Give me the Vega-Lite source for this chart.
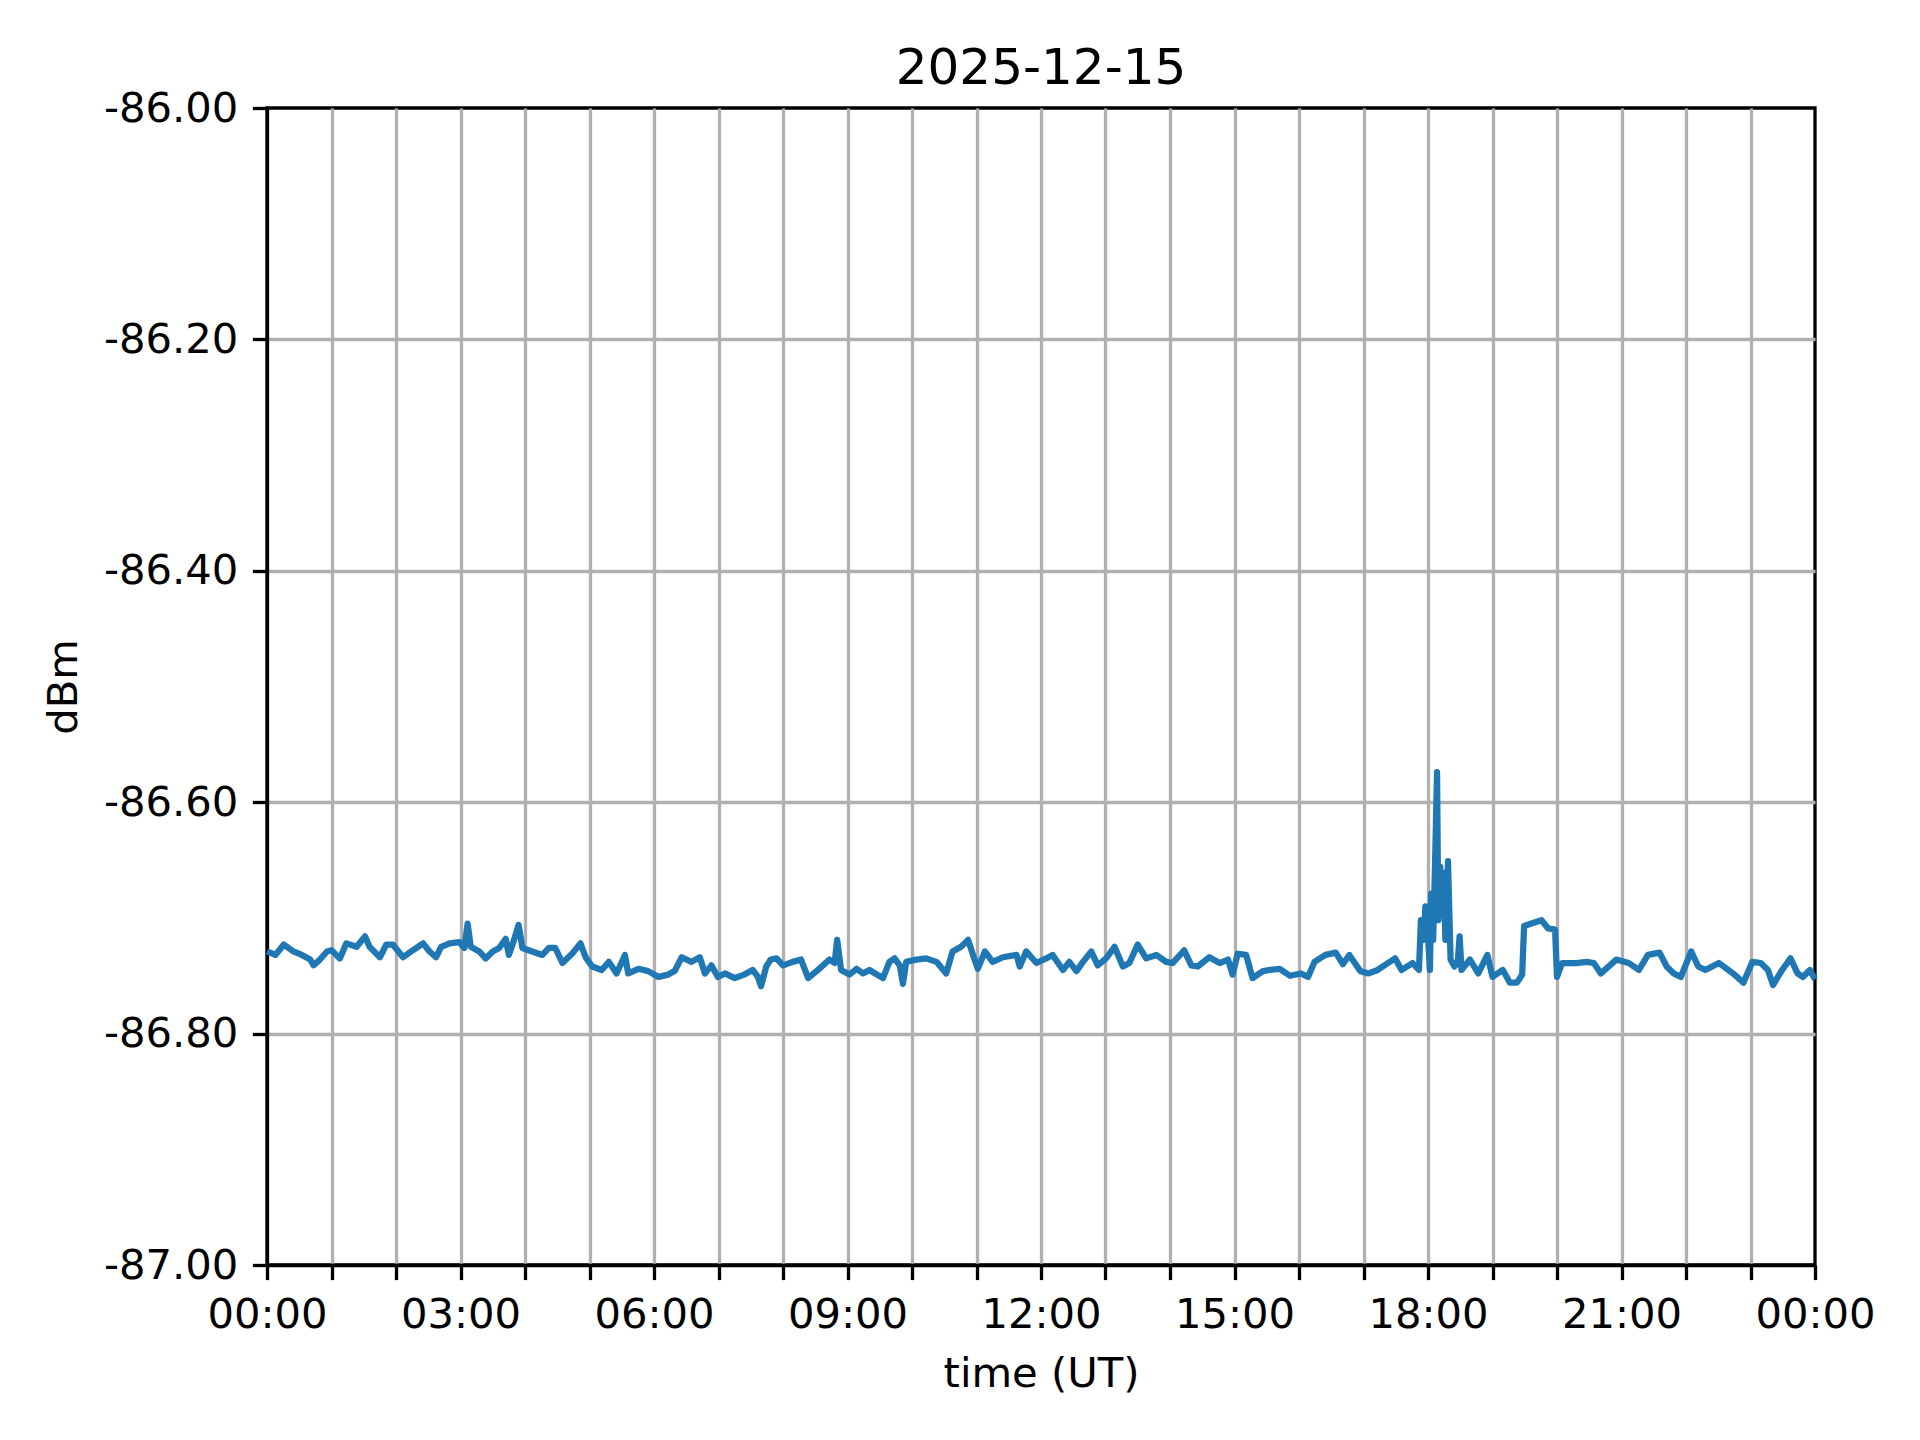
{
  "$schema": "https://vega.github.io/schema/vega-lite/v6.json",
  "autosize": {"type": "none"},
  "padding": {"left": 267, "top": 108, "right": 105, "bottom": 175},
  "width": 1548,
  "height": 1157,
  "background": "white",
  "title": {
    "text": "2025-12-15",
    "font": "DejaVu Sans",
    "fontSize": 50,
    "fontWeight": "normal",
    "color": "black",
    "anchor": "middle",
    "offset": -6
  },
  "data": {
    "values": [
      {"hour": 0.0, "dBm": -86.729},
      {"hour": 0.13, "dBm": -86.732},
      {"hour": 0.26, "dBm": -86.723},
      {"hour": 0.41, "dBm": -86.729},
      {"hour": 0.54, "dBm": -86.732},
      {"hour": 0.67, "dBm": -86.736},
      {"hour": 0.72, "dBm": -86.741},
      {"hour": 0.82, "dBm": -86.736},
      {"hour": 0.93, "dBm": -86.729},
      {"hour": 1.0, "dBm": -86.728},
      {"hour": 1.13, "dBm": -86.735},
      {"hour": 1.23, "dBm": -86.722},
      {"hour": 1.39, "dBm": -86.725},
      {"hour": 1.52, "dBm": -86.716},
      {"hour": 1.59, "dBm": -86.725},
      {"hour": 1.75, "dBm": -86.734},
      {"hour": 1.85, "dBm": -86.723},
      {"hour": 1.95, "dBm": -86.723},
      {"hour": 2.11, "dBm": -86.734},
      {"hour": 2.26, "dBm": -86.728},
      {"hour": 2.42, "dBm": -86.722},
      {"hour": 2.52, "dBm": -86.729},
      {"hour": 2.62, "dBm": -86.734},
      {"hour": 2.7, "dBm": -86.725},
      {"hour": 2.83, "dBm": -86.722},
      {"hour": 2.98, "dBm": -86.721},
      {"hour": 3.06, "dBm": -86.726},
      {"hour": 3.11, "dBm": -86.705},
      {"hour": 3.16, "dBm": -86.725},
      {"hour": 3.29, "dBm": -86.729},
      {"hour": 3.39, "dBm": -86.735},
      {"hour": 3.5, "dBm": -86.729},
      {"hour": 3.6, "dBm": -86.726},
      {"hour": 3.7, "dBm": -86.718},
      {"hour": 3.75, "dBm": -86.732},
      {"hour": 3.83, "dBm": -86.719},
      {"hour": 3.9, "dBm": -86.706},
      {"hour": 3.96, "dBm": -86.726},
      {"hour": 4.11, "dBm": -86.729},
      {"hour": 4.27, "dBm": -86.732},
      {"hour": 4.37, "dBm": -86.726},
      {"hour": 4.47, "dBm": -86.726},
      {"hour": 4.58, "dBm": -86.739},
      {"hour": 4.73, "dBm": -86.731},
      {"hour": 4.86, "dBm": -86.722},
      {"hour": 4.94, "dBm": -86.734},
      {"hour": 5.04, "dBm": -86.742},
      {"hour": 5.19, "dBm": -86.745},
      {"hour": 5.3, "dBm": -86.738},
      {"hour": 5.42, "dBm": -86.748},
      {"hour": 5.55, "dBm": -86.732},
      {"hour": 5.6, "dBm": -86.748},
      {"hour": 5.76, "dBm": -86.744},
      {"hour": 5.91, "dBm": -86.746},
      {"hour": 6.07, "dBm": -86.751},
      {"hour": 6.22, "dBm": -86.749},
      {"hour": 6.32, "dBm": -86.746},
      {"hour": 6.43, "dBm": -86.734},
      {"hour": 6.58, "dBm": -86.738},
      {"hour": 6.71, "dBm": -86.734},
      {"hour": 6.79, "dBm": -86.748},
      {"hour": 6.89, "dBm": -86.741},
      {"hour": 6.99, "dBm": -86.751},
      {"hour": 7.1, "dBm": -86.748},
      {"hour": 7.25, "dBm": -86.752},
      {"hour": 7.4, "dBm": -86.749},
      {"hour": 7.53, "dBm": -86.745},
      {"hour": 7.61, "dBm": -86.751},
      {"hour": 7.66, "dBm": -86.759},
      {"hour": 7.74, "dBm": -86.742},
      {"hour": 7.81, "dBm": -86.736},
      {"hour": 7.9, "dBm": -86.735},
      {"hour": 8.0, "dBm": -86.741},
      {"hour": 8.15, "dBm": -86.738},
      {"hour": 8.28, "dBm": -86.736},
      {"hour": 8.39, "dBm": -86.752},
      {"hour": 8.52, "dBm": -86.746},
      {"hour": 8.62, "dBm": -86.741},
      {"hour": 8.72, "dBm": -86.736},
      {"hour": 8.8, "dBm": -86.739},
      {"hour": 8.84, "dBm": -86.719},
      {"hour": 8.9, "dBm": -86.745},
      {"hour": 9.03, "dBm": -86.749},
      {"hour": 9.14, "dBm": -86.744},
      {"hour": 9.24, "dBm": -86.748},
      {"hour": 9.34, "dBm": -86.745},
      {"hour": 9.55, "dBm": -86.752},
      {"hour": 9.65, "dBm": -86.738},
      {"hour": 9.73, "dBm": -86.735},
      {"hour": 9.81, "dBm": -86.741},
      {"hour": 9.86, "dBm": -86.757},
      {"hour": 9.91, "dBm": -86.738},
      {"hour": 10.07, "dBm": -86.736},
      {"hour": 10.22, "dBm": -86.735},
      {"hour": 10.38, "dBm": -86.738},
      {"hour": 10.53, "dBm": -86.748},
      {"hour": 10.63, "dBm": -86.729},
      {"hour": 10.76, "dBm": -86.725},
      {"hour": 10.87, "dBm": -86.719},
      {"hour": 10.94, "dBm": -86.731},
      {"hour": 11.02, "dBm": -86.744},
      {"hour": 11.13, "dBm": -86.729},
      {"hour": 11.25, "dBm": -86.738},
      {"hour": 11.41, "dBm": -86.734},
      {"hour": 11.62, "dBm": -86.732},
      {"hour": 11.67, "dBm": -86.742},
      {"hour": 11.77, "dBm": -86.729},
      {"hour": 11.93, "dBm": -86.739},
      {"hour": 12.08, "dBm": -86.735},
      {"hour": 12.18, "dBm": -86.732},
      {"hour": 12.34, "dBm": -86.745},
      {"hour": 12.44, "dBm": -86.738},
      {"hour": 12.55, "dBm": -86.746},
      {"hour": 12.65, "dBm": -86.738},
      {"hour": 12.78, "dBm": -86.729},
      {"hour": 12.88, "dBm": -86.741},
      {"hour": 13.01, "dBm": -86.735},
      {"hour": 13.14, "dBm": -86.725},
      {"hour": 13.27, "dBm": -86.742},
      {"hour": 13.37, "dBm": -86.739},
      {"hour": 13.5, "dBm": -86.723},
      {"hour": 13.63, "dBm": -86.735},
      {"hour": 13.79, "dBm": -86.732},
      {"hour": 13.94, "dBm": -86.738},
      {"hour": 14.04, "dBm": -86.739},
      {"hour": 14.22, "dBm": -86.728},
      {"hour": 14.33, "dBm": -86.741},
      {"hour": 14.43, "dBm": -86.742},
      {"hour": 14.61, "dBm": -86.734},
      {"hour": 14.77, "dBm": -86.739},
      {"hour": 14.9, "dBm": -86.736},
      {"hour": 14.97, "dBm": -86.749},
      {"hour": 15.05, "dBm": -86.731},
      {"hour": 15.18, "dBm": -86.732},
      {"hour": 15.28, "dBm": -86.752},
      {"hour": 15.44, "dBm": -86.746},
      {"hour": 15.54, "dBm": -86.745},
      {"hour": 15.7, "dBm": -86.744},
      {"hour": 15.86, "dBm": -86.75},
      {"hour": 16.03, "dBm": -86.748},
      {"hour": 16.14, "dBm": -86.751},
      {"hour": 16.24, "dBm": -86.738},
      {"hour": 16.41, "dBm": -86.732},
      {"hour": 16.57, "dBm": -86.73},
      {"hour": 16.68, "dBm": -86.74},
      {"hour": 16.78, "dBm": -86.732},
      {"hour": 16.95, "dBm": -86.746},
      {"hour": 17.08, "dBm": -86.748},
      {"hour": 17.22, "dBm": -86.745},
      {"hour": 17.38, "dBm": -86.739},
      {"hour": 17.49, "dBm": -86.735},
      {"hour": 17.59, "dBm": -86.745},
      {"hour": 17.76, "dBm": -86.739},
      {"hour": 17.86, "dBm": -86.745},
      {"hour": 17.89, "dBm": -86.702},
      {"hour": 17.93, "dBm": -86.719},
      {"hour": 17.96, "dBm": -86.69},
      {"hour": 18.0, "dBm": -86.716},
      {"hour": 18.03, "dBm": -86.745},
      {"hour": 18.05, "dBm": -86.679},
      {"hour": 18.08, "dBm": -86.719},
      {"hour": 18.11, "dBm": -86.652},
      {"hour": 18.14, "dBm": -86.574},
      {"hour": 18.16, "dBm": -86.702},
      {"hour": 18.19, "dBm": -86.656},
      {"hour": 18.22, "dBm": -86.693},
      {"hour": 18.24, "dBm": -86.661},
      {"hour": 18.27, "dBm": -86.719},
      {"hour": 18.31, "dBm": -86.651},
      {"hour": 18.35, "dBm": -86.736},
      {"hour": 18.41, "dBm": -86.742},
      {"hour": 18.46, "dBm": -86.739},
      {"hour": 18.49, "dBm": -86.716},
      {"hour": 18.52, "dBm": -86.745},
      {"hour": 18.65, "dBm": -86.736},
      {"hour": 18.78, "dBm": -86.748},
      {"hour": 18.92, "dBm": -86.732},
      {"hour": 19.0, "dBm": -86.751},
      {"hour": 19.16, "dBm": -86.745},
      {"hour": 19.27, "dBm": -86.756},
      {"hour": 19.38, "dBm": -86.756},
      {"hour": 19.46, "dBm": -86.749},
      {"hour": 19.49, "dBm": -86.707},
      {"hour": 19.59, "dBm": -86.705},
      {"hour": 19.76, "dBm": -86.702},
      {"hour": 19.86, "dBm": -86.709},
      {"hour": 19.97, "dBm": -86.71},
      {"hour": 20.0, "dBm": -86.751},
      {"hour": 20.08, "dBm": -86.739},
      {"hour": 20.3, "dBm": -86.739},
      {"hour": 20.46, "dBm": -86.738},
      {"hour": 20.57, "dBm": -86.739},
      {"hour": 20.68, "dBm": -86.748},
      {"hour": 20.92, "dBm": -86.736},
      {"hour": 21.11, "dBm": -86.739},
      {"hour": 21.27, "dBm": -86.745},
      {"hour": 21.41, "dBm": -86.732},
      {"hour": 21.59, "dBm": -86.73},
      {"hour": 21.7, "dBm": -86.742},
      {"hour": 21.81, "dBm": -86.748},
      {"hour": 21.92, "dBm": -86.751},
      {"hour": 22.08, "dBm": -86.729},
      {"hour": 22.19, "dBm": -86.742},
      {"hour": 22.3, "dBm": -86.745},
      {"hour": 22.51, "dBm": -86.739},
      {"hour": 22.73, "dBm": -86.748},
      {"hour": 22.89, "dBm": -86.756},
      {"hour": 23.03, "dBm": -86.738},
      {"hour": 23.16, "dBm": -86.739},
      {"hour": 23.27, "dBm": -86.745},
      {"hour": 23.35, "dBm": -86.758},
      {"hour": 23.49, "dBm": -86.745},
      {"hour": 23.62, "dBm": -86.735},
      {"hour": 23.73, "dBm": -86.748},
      {"hour": 23.81, "dBm": -86.751},
      {"hour": 23.92, "dBm": -86.745},
      {"hour": 24.0, "dBm": -86.753}
    ]
  },
  "mark": {"type": "line", "color": "#1f77b4", "strokeWidth": 6.25, "strokeJoin": "round"},
  "encoding": {
    "x": {
      "field": "hour",
      "type": "quantitative",
      "scale": {"domain": [0, 24], "nice": false, "zero": false},
      "axis": {
        "title": "time (UT)",
        "values": [0, 1, 2, 3, 4, 5, 6, 7, 8, 9, 10, 11, 12, 13, 14, 15, 16, 17, 18, 19, 20, 21, 22, 23, 24],
        "labelExpr": "datum.value % 3 === 0 ? ((datum.value % 24) < 10 ? '0' : '') + (datum.value % 24) + ':00' : ''",
        "labelFlush": false,
        "labelOverlap": false,
        "titlePadding": 18,
        "gridOpacity": {"condition": {"test": "datum.value === 0 || datum.value === 24", "value": 0}, "value": 1},
        "encode": {
          "ticks": {
            "update": {
              "y2": {"signal": "datum.value % 3 === 0 ? 14.6 : 8.3"},
              "strokeWidth": {"signal": "datum.value % 3 === 0 ? 3.3 : 2.5"}
            }
          }
        }
      }
    },
    "y": {
      "field": "dBm",
      "type": "quantitative",
      "scale": {"domain": [-87, -86], "nice": false, "zero": false},
      "axis": {
        "title": "dBm",
        "values": [-87, -86.8, -86.6, -86.4, -86.2, -86],
        "labelExpr": "'-' + format(-datum.value, '.2f')",
        "gridOpacity": {"condition": {"test": "datum.value === -87 || datum.value === -86", "value": 0}, "value": 1},
        "titlePadding": 18
      }
    }
  },
  "config": {
    "view": {"stroke": "black", "strokeWidth": 3.3},
    "axis": {
      "labelFont": "DejaVu Sans",
      "titleFont": "DejaVu Sans",
      "labelFontSize": 41.7,
      "titleFontSize": 41.7,
      "titleFontWeight": "normal",
      "labelColor": "black",
      "titleColor": "black",
      "domainColor": "black",
      "domainWidth": 3.3,
      "tickColor": "black",
      "tickWidth": 3.3,
      "tickSize": 14.6,
      "labelPadding": 14.6,
      "grid": true,
      "gridColor": "#b0b0b0",
      "gridWidth": 3.3
    }
  }
}
